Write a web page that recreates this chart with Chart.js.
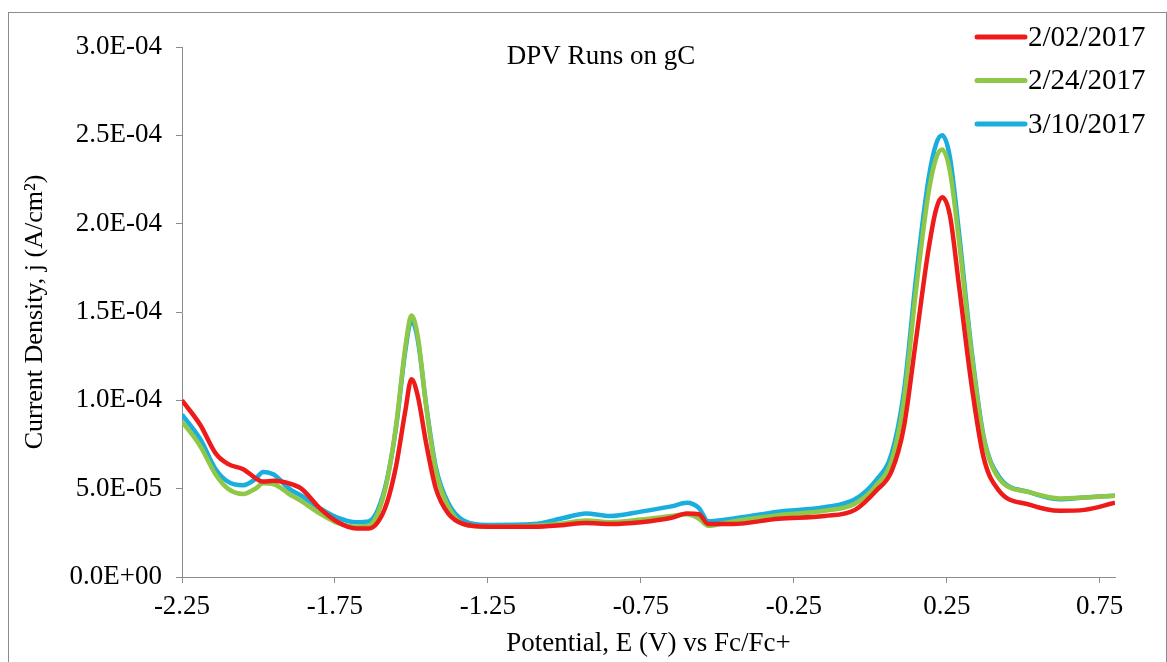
<!DOCTYPE html>
<html>
<head>
<meta charset="utf-8">
<title>DPV Runs on gC</title>
<script src="https://cdn.jsdelivr.net/npm/chart.js@4.4.1/dist/chart.umd.min.js"></script>
<style>
    html, body { margin: 0; padding: 0; background: #ffffff; }
    #cadre { width: 1167px; height: 662px; position: relative; }
</style>
</head>
<body>
<div id="cadre"><canvas id="graphDPV"></canvas></div>
<script>
// ==========================================
// DPV RUNS ON gC - three dates
// values, in 1e-5 A/cm2
// ==========================================

const potentials = [
    -2.25, -2.19, -2.14, -2.10, -2.05, -2.01, -1.985, -1.95, -1.90, -1.86,
    -1.80, -1.74, -1.68, -1.64, -1.61, -1.58, -1.55, -1.52, -1.50, -1.48,
    -1.45, -1.42, -1.38, -1.33, -1.25, -1.10, -1.00, -0.93, -0.85, -0.75,
    -0.65, -0.60, -0.56, -0.53, -0.45, -0.30, -0.15, -0.05, 0.02, 0.07,
    0.11, 0.15, 0.19, 0.215, 0.235, 0.26, 0.29, 0.33, 0.37, 0.42,
    0.52, 0.62, 0.70, 0.80
];

const run0202 = [
    10.0, 8.6, 7.0, 6.4, 6.1, 5.6, 5.4, 5.45, 5.3, 5.0,
    3.9, 3.1, 2.75, 2.75, 3.1, 4.2, 6.3, 9.4, 11.2, 10.3,
    7.4, 5.0, 3.6, 3.0, 2.85, 2.85, 2.95, 3.05, 3.0, 3.1,
    3.35, 3.6, 3.55, 3.0, 3.0, 3.3, 3.45, 3.8, 4.9, 6.0,
    8.5, 13.5, 18.5, 20.8, 21.5, 20.5, 16.5, 11.0, 6.8, 4.9,
    4.1, 3.75, 3.8, 4.2
];

const run0224 = [
    8.8, 7.4, 5.8, 5.0, 4.7, 5.0, 5.3, 5.25, 4.7, 4.3,
    3.6, 3.05, 2.85, 2.9, 3.6, 5.4, 8.6, 13.0, 14.8, 13.7,
    9.4, 6.0, 4.0, 3.0, 2.85, 2.9, 3.05, 3.2, 3.1, 3.25,
    3.45, 3.55, 3.3, 2.9, 3.15, 3.5, 3.75, 4.15, 5.2, 6.6,
    10.0, 16.3, 21.7, 23.7, 24.2, 23.0, 19.0, 12.8, 7.9, 5.6,
    4.8, 4.45, 4.5, 4.6
];

const run0310 = [
    9.2, 7.8, 6.1, 5.4, 5.2, 5.55, 5.95, 5.8, 5.0, 4.6,
    3.9, 3.35, 3.1, 3.15, 3.8, 5.5, 8.5, 12.8, 14.5, 13.5,
    9.5, 6.2, 4.2, 3.2, 2.95, 3.0, 3.35, 3.6, 3.45, 3.7,
    4.0, 4.2, 3.9, 3.15, 3.3, 3.7, 3.95, 4.4, 5.5, 7.0,
    10.5, 17.0, 22.5, 24.5, 25.0, 23.8, 19.5, 13.0, 8.0, 5.7,
    4.8, 4.4, 4.5, 4.6
];

const xTicks = [-2.25, -1.75, -1.25, -0.75, -0.25, 0.25, 0.75];
const yTicks = [0, 5e-5, 1e-4, 1.5e-4, 2e-4, 2.5e-4, 3e-4];

const series = [
    { label: "2/02/2017", values: run0202, color: "#ee1b1b" },
    { label: "2/24/2017", values: run0224, color: "#8fc747" },
    { label: "3/10/2017", values: run0310, color: "#19aede" }
];

// format "3.0E-04"
function formatE(v) {
    if (v === 0) return "0.0E+00";
    const parts = v.toExponential(1).toUpperCase().split("E");
    const signe = parts[1][0] === "-" ? "-" : "+";
    const exp = parts[1].replace(/[+-]/, "").padStart(2, "0");
    return parts[0] + "E" + signe + exp;
}

const police = "'Liberation Serif', 'Times New Roman', serif";

// ==========================================
// title, legend and frame drawn by hand
// ==========================================

const decor = {
    id: "decor",
    afterDraw(chart) {
        const ctx = chart.ctx;
        ctx.save();

        // frame
        ctx.strokeStyle = "#8c8c8c";
        ctx.lineWidth = 1;
        ctx.strokeRect(8.5, 12.5, 1158, 660);

        // title
        ctx.fillStyle = "#000";
        ctx.font = "27px " + police;
        ctx.textAlign = "center";
        ctx.textBaseline = "middle";
        ctx.fillText("DPV Runs on gC", 601, 57);

        // legend
        ctx.font = "29px " + police;
        ctx.textAlign = "left";
        chart.data.datasets.forEach((ds, i) => {
            const y = 37 + i * 43.5;
            ctx.strokeStyle = ds.borderColor;
            ctx.lineWidth = 5;
            ctx.lineCap = "round";
            ctx.beginPath();
            ctx.moveTo(977, y);
            ctx.lineTo(1025, y);
            ctx.stroke();
            ctx.fillStyle = "#000";
            ctx.fillText(ds.label, 1028, y + 1);
        });

        ctx.restore();
    }
};

new Chart(document.getElementById("graphDPV"), {

    type: "line",

    data: {
        datasets: series.map(s => ({
            label: s.label,
            data: potentials.map((p, i) => ({ x: p, y: s.values[i] * 1e-5 })),
            borderColor: s.color,
            backgroundColor: s.color,
            borderWidth: 4.5,
            pointRadius: 0,
            fill: false,
            cubicInterpolationMode: "monotone",
            tension: 0.4
        }))
    },

    options: {
        responsive: true,
        maintainAspectRatio: false,
        animation: false,
        layout: {
            padding: { left: 0, top: 47, right: 52, bottom: 0 }
        },
        plugins: {
            legend: { display: false },
            title: { display: false },
            tooltip: { enabled: false }
        },
        scales: {
            x: {
                type: "linear",
                min: -2.25,
                max: 0.80,
                afterBuildTicks: axe => { axe.ticks = xTicks.map(v => ({ value: v })); },
                afterFit: axe => { axe.height = 85; },
                border: { display: true, color: "#8c8c8c", width: 1 },
                grid: { drawOnChartArea: false, drawTicks: true, tickLength: 6, color: "#8c8c8c" },
                ticks: {
                    color: "#000",
                    padding: 8,
                    maxRotation: 0,
                    autoSkip: false,
                    font: { family: police, size: 27 },
                    callback: v => v.toFixed(2)
                },
                title: {
                    display: true,
                    text: "Potential, E (V) vs Fc/Fc+",
                    color: "#000",
                    padding: { top: 0, bottom: 2 },
                    font: { family: police, size: 27 }
                }
            },
            y: {
                min: 0,
                max: 3e-4,
                afterBuildTicks: axe => { axe.ticks = yTicks.map(v => ({ value: v })); },
                afterFit: axe => { axe.width = 182; },
                border: { display: true, color: "#8c8c8c", width: 1 },
                grid: { drawOnChartArea: false, drawTicks: true, tickLength: 6, color: "#8c8c8c" },
                ticks: {
                    color: "#000",
                    padding: 14,
                    font: { family: police, size: 27 },
                    callback: v => formatE(v)
                },
                title: {
                    display: true,
                    text: "Current Density, j (A/cm²)",
                    color: "#000",
                    padding: { top: 20, bottom: 0 },
                    font: { family: police, size: 26 }
                }
            }
        }
    },

    plugins: [decor]

});
</script>
</body>
</html>
